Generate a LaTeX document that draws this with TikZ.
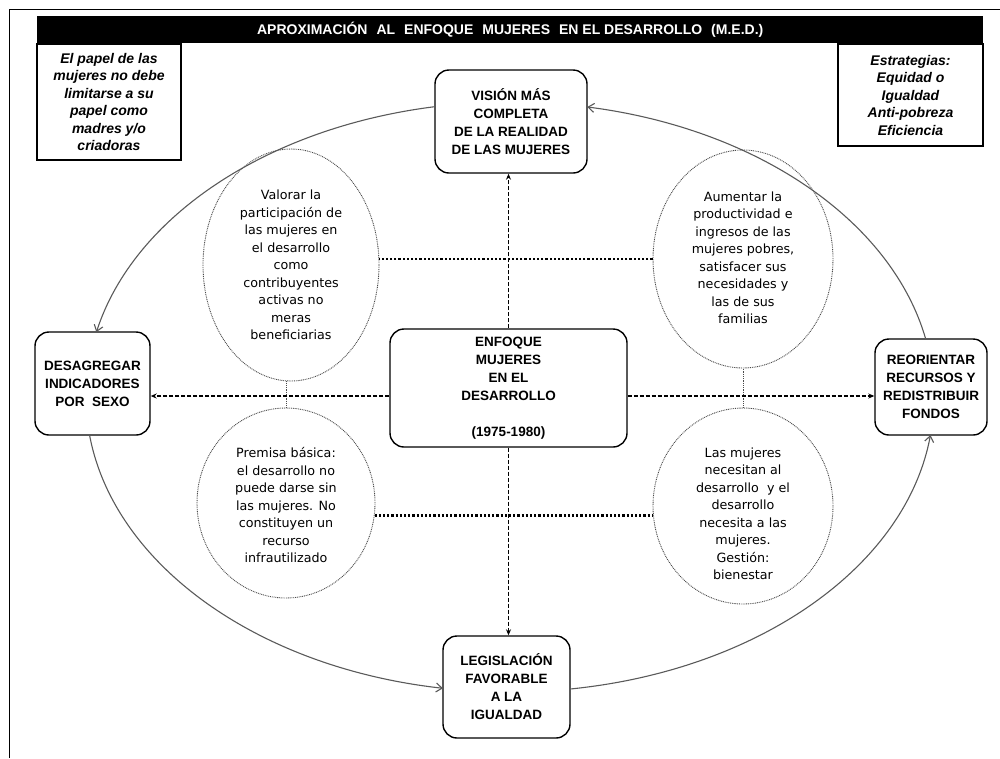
\documentclass[tikz,border=0pt]{standalone}
\usepackage{fontspec}
\setmainfont{Liberation Sans}
\newfontfamily\ovalfont{DejaVu Sans}
\usetikzlibrary{arrows.meta,shapes.geometric}
\definecolor{cyclegray}{HTML}{5A5A5A}
\definecolor{dotgray}{HTML}{4A4A4A}
\newcommand{\wgap}{\hspace{9pt}}
\begin{document}
\begin{tikzpicture}[x=1pt,y=-1pt,
  box/.style={draw, line width=1.4pt, rounded corners=14pt, fill=white, align=center,
    inner sep=0pt, font=\bfseries\fontsize{13.5}{18}\selectfont},
  note/.style={draw, line width=1.4pt, fill=white, align=center, inner sep=0pt,
    font=\bfseries\itshape\fontsize{14}{17.5}\selectfont},
  oval/.style={ellipse, draw=dotgray, line width=0.9pt, dash pattern=on 0.9pt off 0.9pt,
    fill=white, inner sep=0pt},
  ovaltext/.style={align=center, inner sep=0pt, font=\ovalfont\fontsize{12.7}{17.5}\selectfont},
  cyclearc/.style={draw=cyclegray, line width=1.1pt, -{Straight Barb[length=6pt,width=9pt]}},
  link/.style={line width=1.4pt, dash pattern=on 4pt off 2pt, -{Stealth[length=6pt,width=5pt]}},
  dotrow/.style={line width=2.2pt, dash pattern=on 2.2pt off 2pt},
  thindots/.style={draw=dotgray, line width=0.9pt, dash pattern=on 0.9pt off 0.9pt}
]
\useasboundingbox (0,0) rectangle (1000,758);

% outer frame
\draw[line width=1pt] (9,758) -- (9,9) -- (1000,9);

% title bar
\node[fill=black, minimum width=946pt, minimum height=27pt, inner sep=0pt, anchor=north west,
  text=white, font=\bfseries\fontsize{14}{15}\selectfont] (title) at (37,16)
  {APROXIMACIÓN\wgap AL\wgap ENFOQUE\wgap MUJERES\wgap EN EL DESARROLLO\wgap (M.E.D.)};

% side notes
\node[note, minimum width=144pt, minimum height=116pt] (papel) at (109,102)
  {El papel de las\\mujeres no debe\\limitarse a su\\papel como\\madres y/o\\criadoras};
\node[note, minimum width=145pt, minimum height=102pt] (estr) at (910.5,95)
  {Estrategias:\\Equidad o\\Igualdad\\Anti-pobreza\\Eficiencia};

% dotted ovals
\node[oval, minimum width=176pt, minimum height=232pt] (ul) at (291,265) {};
\node[oval, minimum width=180pt, minimum height=218pt] (ur) at (743,259) {};
\node[oval, minimum width=178pt, minimum height=190pt] (ll) at (286,503) {};
\node[oval, minimum width=180pt, minimum height=196pt] (lr) at (743,506) {};

\node[ovaltext] (ult) at (291,265) {Valorar la\\participación de\\las mujeres en\\el desarrollo\\como\\contribuyentes\\activas no\\meras\\beneficiarias};
\node[ovaltext] (urt) at (743,258) {Aumentar la\\productividad e\\ingresos de las\\mujeres pobres,\\satisfacer sus\\necesidades y\\las de sus\\familias};
\node[ovaltext] (llt) at (286,505) {Premisa básica:\\el desarrollo no\\puede darse sin\\las mujeres. No\\constituyen un\\recurso\\infrautilizado};
\node[ovaltext] (lrt) at (743,514) {Las mujeres\\necesitan al\\desarrollo\ \ y el\\desarrollo\\necesita a las\\mujeres.\\Gestión:\\bienestar};

% links between ovals
\draw[dotrow] (ur.west) -- (ur.west -| ul.east);
\draw[dotrow] (ll.-8) -- (ll.-8 -| lr.west);
\draw[thindots] (ll.north) -- (ll.north |- ul.south);
\draw[thindots] (lr.north) -- (lr.north |- ur.south);

% boxes
\node[box, minimum width=152pt, minimum height=103pt] (vision) at (511,121.5)
  {VISIÓN MÁS\\COMPLETA\\DE LA REALIDAD\\DE LAS MUJERES};
\node[box, minimum width=115pt, minimum height=103pt] (desag) at (92.5,383.5)
  {DESAGREGAR\\INDICADORES\\POR\ \ SEXO};
\node[box, minimum width=112pt, minimum height=96pt] (reor) at (931,387)
  {REORIENTAR\\RECURSOS Y\\REDISTRIBUIR\\FONDOS};
\node[box, minimum width=237pt, minimum height=118pt] (med) at (508.5,388)
  {ENFOQUE\\MUJERES\\EN EL\\DESARROLLO\\[18pt](1975-1980)};
\node[box, minimum width=127pt, minimum height=102pt] (legis) at (506.5,687)
  {LEGISLACIÓN\\FAVORABLE\\A LA\\IGUALDAD};

% dashed arrows from the centre box
\coordinate (hl) at ([yshift=-8pt]med.west);
\coordinate (hr) at ([yshift=-8pt]med.east);
\draw[link] (med.north) -- (med.north |- vision.south);
\draw[link] (med.south) -- (med.south |- legis.north);
\draw[link] (hl) -- (hl -| desag.east);
\draw[link] (hr) -- (hr -| reor.west);

% outer cycle
\begin{scope}[shift={(510,397)}]
  \draw[cyclearc] (-11.3:424 and 295) arc[start angle=-11.3, end angle=-79.5, x radius=424, y radius=295];
  \draw[cyclearc] (-100.2:424 and 295) arc[start angle=-100.2, end angle=-167.3, x radius=424, y radius=295];
  \draw[cyclearc] (172.6:424 and 295) arc[start angle=172.6, end angle=99.1, x radius=424, y radius=295];
  \draw[cyclearc] (81.9:424 and 295) arc[start angle=81.9, end angle=7.4, x radius=424, y radius=295];
\end{scope}
\end{tikzpicture}
\end{document}
